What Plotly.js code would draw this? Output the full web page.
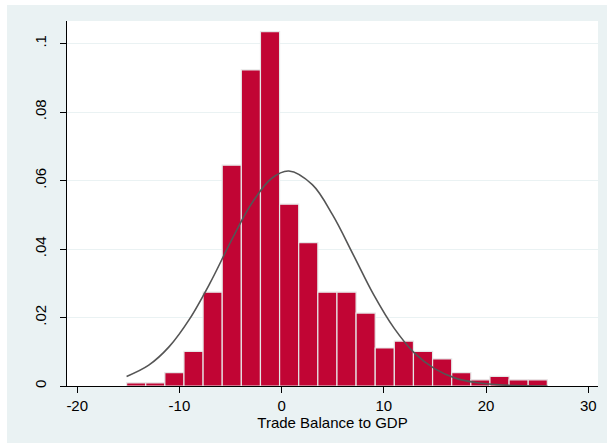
<!DOCTYPE html>
<html>
<head>
<meta charset="utf-8">
<script src="https://cdn.plot.ly/plotly-3.0.1.min.js"></script>
<style>
html,body{margin:0;padding:0;background:#ffffff;width:607px;height:443px;overflow:hidden;}
#chart{position:absolute;left:7px;top:5px;width:600px;height:438px;}
</style>
</head>
<body>
<div id="chart"></div>
<script>
// Histogram of Trade Balance to GDP (density scale)
var binStart = -15.17;
var binWidth = 1.871;
var densities = [0.0009, 0.0009, 0.0039, 0.0101, 0.0274, 0.0645, 0.0923, 0.1035,
                 0.0531, 0.0419, 0.0274, 0.0274, 0.0213, 0.0111, 0.0131, 0.0101,
                 0.0079, 0.0039, 0.0018, 0.0028, 0.0018, 0.0018];

// Normal density overlay
var curveX = [-15.17, -13, -11, -9, -7, -5, -3, -1, 0.7, 3, 5, 7, 9, 11, 13, 15, 17, 19, 21, 23, 26];
var curveY = [0.0028, 0.0061, 0.0115, 0.0196, 0.0301, 0.0420, 0.0530, 0.0606, 0.0628, 0.0588,
              0.0499, 0.0384, 0.0267, 0.0169, 0.0096, 0.0050, 0.0023, 0.0010, 0.0004, 0.0001, 0.0000];

var xTicks = [-20, -10, 0, 10, 20, 30];
var yTicks = [0, 0.02, 0.04, 0.06, 0.08, 0.1];
var yTickText = ['0', '.02', '.04', '.06', '.08', '.1'];
var xTitle = 'Trade Balance to GDP';

var centers = densities.map(function (d, i) { return binStart + (i + 0.5) * binWidth; });

var bars = {
  type: 'bar',
  x: centers,
  y: densities,
  width: binWidth,
  marker: { color: '#C10534', line: { color: '#E6E6E6', width: 1.2 } },
  hoverinfo: 'x+y'
};

var curve = {
  type: 'scatter',
  mode: 'lines',
  x: curveX,
  y: curveY,
  line: { color: '#555555', width: 1.6, shape: 'spline', smoothing: 1 },
  hoverinfo: 'x+y'
};

var font = { family: 'Liberation Sans, Arial, sans-serif', size: 15, color: '#000000' };

var layout = {
  width: 600,
  height: 438,
  paper_bgcolor: '#EAF2F3',
  plot_bgcolor: '#FFFFFF',
  margin: { l: 60, r: 9, t: 16, b: 57 },
  showlegend: false,
  bargap: 0,
  font: font,
  xaxis: {
    range: [-21.0, 30.95],
    tickvals: xTicks,
    ticktext: xTicks.map(String),
    ticks: 'outside',
    ticklen: 6,
    tickcolor: '#000000',
    showline: true,
    linecolor: '#000000',
    linewidth: 1,
    showgrid: false,
    zeroline: false,
    tickfont: font,
    title: { text: xTitle, font: font, standoff: 0 },
    automargin: false
  },
  yaxis: {
    range: [0, 0.1066],
    tickvals: yTicks,
    ticktext: yTickText,
    tickangle: -90,
    ticks: 'outside',
    ticklen: 6,
    tickcolor: '#000000',
    ticklabelstandoff: 8,
    showline: true,
    linecolor: '#000000',
    linewidth: 1,
    showgrid: true,
    gridcolor: '#EAF2F3',
    gridwidth: 1,
    zeroline: false,
    tickfont: font,
    automargin: false
  }
};

Plotly.newPlot('chart', [bars, curve], layout, { displayModeBar: false, staticPlot: true });
</script>
</body>
</html>
